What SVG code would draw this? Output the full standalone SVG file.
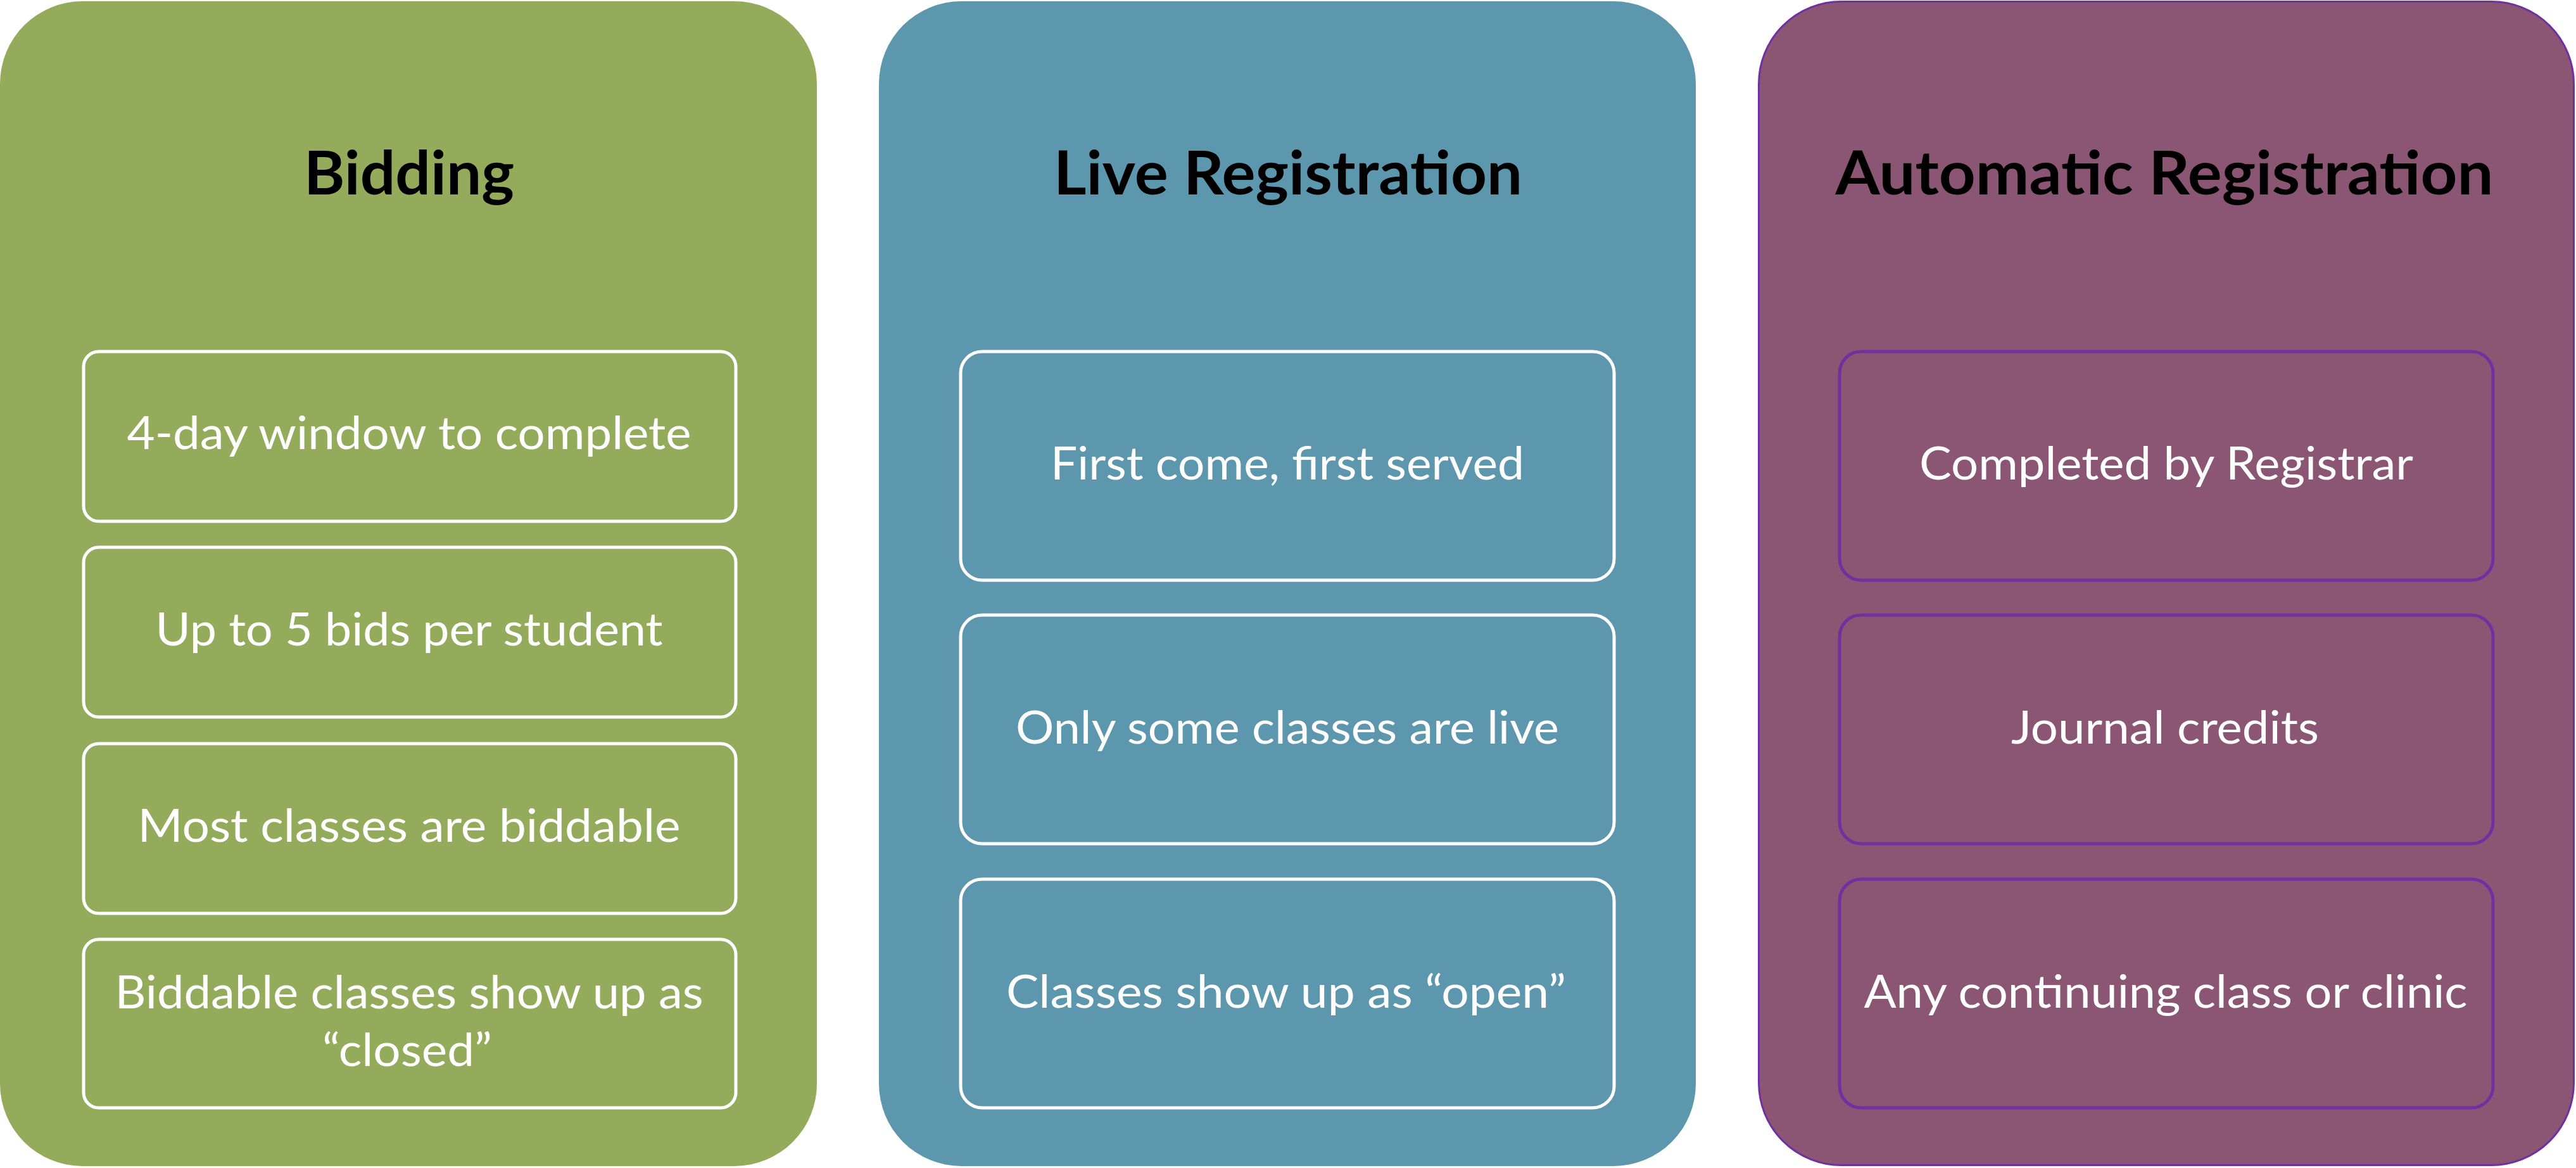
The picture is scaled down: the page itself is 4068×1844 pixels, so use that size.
<svg xmlns="http://www.w3.org/2000/svg" width="4068" height="1844" viewBox="0 0 4068 1844">
<style>
.title{font-family:Lato,"Open Sans","Liberation Sans",sans-serif;font-weight:700;font-size:95px;fill:#000;text-anchor:middle}
.item{font-family:Lato,"Open Sans","Liberation Sans",sans-serif;font-size:72px;fill:#fff;text-anchor:middle}
.g{fill:#93AB5B}
.b{fill:#5D97AE}
.p{fill:#8A5674}
.boxw{fill:none;stroke:#fff;stroke-width:5}
.boxp{fill:none;stroke:#7030A0;stroke-width:5}
</style>
<rect width="4068" height="1844" fill="#fff"/>
<g id="bidding">
<rect class="g" x="0" y="2" width="1290" height="1839" rx="130" ry="130"/>
<text class="title" x="646" y="307" textLength="332" lengthAdjust="spacingAndGlyphs">Bidding</text>
<g id="bid1"><rect class="boxw" x="132" y="555" width="1030" height="268" rx="24"/><text class="item" x="646" y="709" textLength="891" lengthAdjust="spacingAndGlyphs">4-day window to complete</text></g>
<g id="bid2"><rect class="boxw" x="132" y="864" width="1030" height="268" rx="24"/><text class="item" x="646" y="1019" textLength="801" lengthAdjust="spacingAndGlyphs">Up to 5 bids per student</text></g>
<g id="bid3"><rect class="boxw" x="132" y="1174" width="1030" height="268" rx="24"/><text class="item" x="646" y="1329" textLength="857" lengthAdjust="spacingAndGlyphs">Most classes are biddable</text></g>
<g id="bid4"><rect class="boxw" x="132" y="1483" width="1030" height="266" rx="24"/><text class="item" x="646" y="1592" textLength="929" lengthAdjust="spacingAndGlyphs">Biddable classes show up as</text><text class="item" x="643" y="1683" textLength="268" lengthAdjust="spacingAndGlyphs">“closed”</text></g>
</g>
<g id="live">
<rect class="b" x="1388" y="2" width="1290" height="1839" rx="130" ry="130"/>
<text class="title" x="2034" y="307" textLength="740" lengthAdjust="spacingAndGlyphs">Live Registration</text>
<g id="live1"><rect class="boxw" x="1517" y="555" width="1032" height="361" rx="34"/><text class="item" x="2033" y="757" textLength="748" lengthAdjust="spacingAndGlyphs">First come, first served</text></g>
<g id="live2"><rect class="boxw" x="1517" y="971" width="1032" height="361" rx="34"/><text class="item" x="2033" y="1174" textLength="858" lengthAdjust="spacingAndGlyphs">Only some classes are live</text></g>
<g id="live3"><rect class="boxw" x="1517" y="1388" width="1032" height="361" rx="34"/><text class="item" x="2031" y="1591" textLength="884" lengthAdjust="spacingAndGlyphs">Classes show up as “open”</text></g>
</g>
<g id="auto">
<rect class="p" x="2777.5" y="2.5" width="1287" height="1837" rx="130" ry="130" stroke="#7030A0" stroke-width="3"/>
<text class="title" x="3418" y="307" textLength="1039" lengthAdjust="spacingAndGlyphs">Automatic Registration</text>
<g id="auto1"><rect class="boxp" x="2905" y="555" width="1032" height="361" rx="34"/><text class="item" x="3421" y="757" textLength="780" lengthAdjust="spacingAndGlyphs">Completed by Registrar</text></g>
<g id="auto2"><rect class="boxp" x="2905" y="971" width="1032" height="361" rx="34"/><text class="item" x="3419" y="1174" textLength="486" lengthAdjust="spacingAndGlyphs">Journal credits</text></g>
<g id="auto3"><rect class="boxp" x="2905" y="1388" width="1032" height="361" rx="34"/><text class="item" x="3420" y="1591" textLength="953" lengthAdjust="spacingAndGlyphs">Any continuing class or clinic</text></g>
</g>
<g id="connectors"/>
</svg>
